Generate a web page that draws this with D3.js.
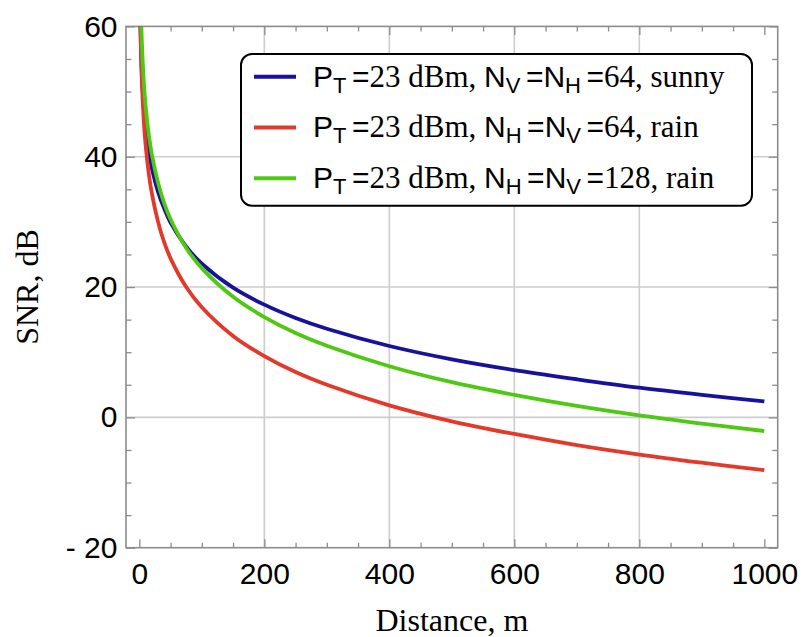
<!DOCTYPE html>
<html>
<head>
<meta charset="utf-8">
<script src="https://cdn.jsdelivr.net/npm/d3@7"></script>
<style>
  body { margin: 0; background: #fff; }
  svg { display: block; }
</style>
</head>
<body>
<svg id="chart"></svg>
<script>
// values
const distances = [1, 2, 4, 7, 10, 15, 20, 30, 40, 50, 75, 100, 150, 200, 250, 300, 400, 500, 600, 700, 800, 900, 1000];
const snrSunny64 = [65.6, 59.3, 53.0, 47.9, 44.6, 40.9, 38.3, 34.6, 32.0, 29.9, 26.2, 23.6, 19.9, 17.3, 15.25, 13.6, 10.95, 8.9, 7.25, 5.85, 4.55, 3.45, 2.45];
const snrRain64 = [66.9, 59.4, 51.8, 45.8, 41.9, 37.5, 34.4, 30.0, 26.8, 24.4, 20.0, 16.9, 12.5, 9.4, 6.95, 5.0, 1.85, -0.6, -2.55, -4.25, -5.7, -6.95, -8.1];
const snrRain128 = [72.9, 65.4, 57.8, 51.8, 47.9, 43.5, 40.4, 36.0, 32.8, 30.4, 26.0, 22.9, 18.5, 15.4, 12.95, 11.0, 7.85, 5.4, 3.45, 1.75, 0.3, -0.95, -2.1];

const xMajorTicks = [0, 200, 400, 600, 800, 1000];
const yMajorTicks = [-20, 0, 20, 40, 60];
const xGridValues = [200, 400, 600, 800];
const yGridValues = [0, 20, 40];

const seriesColors = ['#17129b', '#e2392b', '#4fc814'];
// legend labels: [text, style] pieces
const legendLabels = [
  [['P', 'sans'], ['T', 'sub'], ['=', 'sans'], ['23 dBm, ', 'serif'], ['N', 'sans'], ['V', 'sub'], ['=', 'sans'], ['N', 'sans'], ['H', 'sub'], ['=', 'sans'], ['64, sunny', 'serif']],
  [['P', 'sans'], ['T', 'sub'], ['=', 'sans'], ['23 dBm, ', 'serif'], ['N', 'sans'], ['H', 'sub'], ['=', 'sans'], ['N', 'sans'], ['V', 'sub'], ['=', 'sans'], ['64, rain', 'serif']],
  [['P', 'sans'], ['T', 'sub'], ['=', 'sans'], ['23 dBm, ', 'serif'], ['N', 'sans'], ['H', 'sub'], ['=', 'sans'], ['N', 'sans'], ['V', 'sub'], ['=', 'sans'], ['128, rain', 'serif']]
];

class SnrChart {

  constructor(_config, _data) {
    this.config = {
      parentElement: _config.parentElement,
      containerWidth: _config.containerWidth || 804,
      containerHeight: _config.containerHeight || 637,
      margin: _config.margin || {top: 26.4, right: 26.3, bottom: 89.3, left: 126}
    }
    this.data = _data;
    this.initVis();
  }

  initVis() {
    let vis = this;

    vis.width = vis.config.containerWidth - vis.config.margin.left - vis.config.margin.right;
    vis.height = vis.config.containerHeight - vis.config.margin.top - vis.config.margin.bottom;

    vis.xScale = d3.scaleLinear()
        .domain([-21.3, 1021.4])
        .range([0, vis.width]);
    vis.yScale = d3.scaleLinear()
        .domain([-20, 60])
        .range([vis.height, 0]);

    vis.svg = d3.select(vis.config.parentElement)
        .attr('width', vis.config.containerWidth)
        .attr('height', vis.config.containerHeight);

    vis.chart = vis.svg.append('g')
        .attr('transform', `translate(${vis.config.margin.left},${vis.config.margin.top})`);

    vis.svg.append('defs').append('clipPath')
        .attr('id', 'plot-clip')
      .append('rect')
        .attr('width', vis.width)
        .attr('height', vis.height);

    vis.gridG = vis.chart.append('g');
    vis.axesG = vis.chart.append('g');
    vis.marks = vis.chart.append('g').attr('clip-path', 'url(#plot-clip)');
    vis.legendG = vis.chart.append('g');

    // axis titles
    vis.svg.append('text')
        .attr('x', vis.config.margin.left + vis.width / 2)
        .attr('y', 631)
        .attr('text-anchor', 'middle')
        .attr('font-family', 'Liberation Serif, Times New Roman, serif')
        .attr('font-size', 32)
        .text('Distance, m');

    vis.svg.append('text')
        .attr('transform', `translate(37.5,${vis.config.margin.top + vis.height / 2}) rotate(-90)`)
        .attr('text-anchor', 'middle')
        .attr('font-family', 'Liberation Serif, Times New Roman, serif')
        .attr('font-size', 32)
        .text('SNR, dB');
  }

  updateVis() {
    let vis = this;

    vis.line = d3.line()
        .x(d => vis.xScale(d.x))
        .y(d => vis.yScale(d.y))
        .curve(d3.curveCatmullRom.alpha(0.5));

    vis.renderVis();
  }

  renderVis() {
    let vis = this;
    const frameColor = '#8c8c8c';

    // grid
    vis.gridG.selectAll('.vgrid')
        .data(xGridValues)
        .join('line')
          .attr('class', 'vgrid')
          .attr('x1', d => vis.xScale(d)).attr('x2', d => vis.xScale(d))
          .attr('y1', 0).attr('y2', vis.height)
          .attr('stroke', '#cdcdcd').attr('stroke-width', 1.6);
    vis.gridG.selectAll('.hgrid')
        .data(yGridValues)
        .join('line')
          .attr('class', 'hgrid')
          .attr('y1', d => vis.yScale(d)).attr('y2', d => vis.yScale(d))
          .attr('x1', 0).attr('x2', vis.width)
          .attr('stroke', '#cdcdcd').attr('stroke-width', 1.6);

    const xMinor = d3.range(0, 1001, 50).filter(v => v % 200 !== 0);
    const yMinor = d3.range(-20, 61, 5).filter(v => v % 20 !== 0);

    const styleAxis = (g) => {
      g.select('.domain').remove();
      g.selectAll('line').attr('stroke', frameColor).attr('stroke-width', 1.3);
      g.attr('font-family', 'Liberation Sans, Arial, sans-serif')
       .attr('font-size', 30)
       .selectAll('text').attr('fill', '#000');
    };

    // bottom
    vis.axesG.append('g')
        .attr('transform', `translate(0,${vis.height})`)
        .call(d3.axisBottom(vis.xScale).tickValues(xMajorTicks).tickSize(-8.5).tickPadding(15).tickFormat(d3.format('d')))
        .call(styleAxis);
    vis.axesG.append('g')
        .attr('transform', `translate(0,${vis.height})`)
        .call(d3.axisBottom(vis.xScale).tickValues(xMinor).tickSize(-5).tickFormat(''))
        .call(styleAxis);
    // top
    vis.axesG.append('g')
        .call(d3.axisTop(vis.xScale).tickValues(xMajorTicks).tickSize(-8.5).tickFormat(''))
        .call(styleAxis);
    vis.axesG.append('g')
        .call(d3.axisTop(vis.xScale).tickValues(xMinor).tickSize(-5).tickFormat(''))
        .call(styleAxis);
    // left
    vis.axesG.append('g')
        .call(d3.axisLeft(vis.yScale).tickValues(yMajorTicks).tickSize(-9).tickPadding(8.5)
          .tickFormat(d => d < 0 ? '- ' + Math.abs(d) : d))
        .call(styleAxis);
    vis.axesG.append('g')
        .call(d3.axisLeft(vis.yScale).tickValues(yMinor).tickSize(-5.5).tickFormat(''))
        .call(styleAxis);
    // right
    vis.axesG.append('g')
        .attr('transform', `translate(${vis.width},0)`)
        .call(d3.axisRight(vis.yScale).tickValues(yMajorTicks).tickSize(-9).tickFormat(''))
        .call(styleAxis);
    vis.axesG.append('g')
        .attr('transform', `translate(${vis.width},0)`)
        .call(d3.axisRight(vis.yScale).tickValues(yMinor).tickSize(-5.5).tickFormat(''))
        .call(styleAxis);

    vis.axesG.append('rect')
        .attr('width', vis.width)
        .attr('height', vis.height)
        .attr('fill', 'none')
        .attr('stroke', frameColor)
        .attr('stroke-width', 1.6);

    // curves
    vis.marks.selectAll('.chart-line')
        .data(vis.data)
        .join('path')
          .attr('class', 'chart-line')
          .attr('fill', 'none')
          .attr('stroke', (d, i) => seriesColors[i])
          .attr('stroke-width', 3.8)
          .attr('d', d => vis.line(d));

    // legend
    const box = {x: 241 - 126, y: 54 - 26.4, w: 511, h: 151.7};
    vis.legendG.append('rect')
        .attr('x', box.x).attr('y', box.y)
        .attr('width', box.w).attr('height', box.h)
        .attr('rx', 11).attr('ry', 11)
        .attr('fill', '#fff')
        .attr('stroke', '#000')
        .attr('stroke-width', 2);

    const rowY = i => box.y + 22.7 + i * 50.8;

    vis.legendG.selectAll('.legend-line')
        .data(seriesColors)
        .join('line')
          .attr('class', 'legend-line')
          .attr('x1', box.x + 13).attr('x2', box.x + 55)
          .attr('y1', (d, i) => rowY(i)).attr('y2', (d, i) => rowY(i))
          .attr('stroke', d => d)
          .attr('stroke-width', 4);

    legendLabels.forEach((pieces, i) => {
      const t = vis.legendG.append('text')
          .attr('x', box.x + 72)
          .attr('y', rowY(i) + 10);
      let prevSub = false;
      pieces.forEach(([txt, style]) => {
        const ts = t.append('tspan').text(txt);
        if (style === 'sub') {
          ts.attr('font-family', 'Liberation Sans, Arial, sans-serif')
            .attr('font-size', 22)
            .attr('dy', 6);
        } else {
          ts.attr('font-family', style === 'serif' ? 'Liberation Serif, Times New Roman, serif' : 'Liberation Sans, Arial, sans-serif')
            .attr('font-size', style === 'serif' ? 31 : 30);
          if (prevSub) ts.attr('dy', -6).attr('dx', 5.5);
        }
        prevSub = style === 'sub';
      });
    });
  }
}

const chartData = [snrSunny64, snrRain64, snrRain128]
    .map(series => series.map((v, i) => ({x: distances[i], y: v})));

const chart = new SnrChart({parentElement: '#chart'}, chartData);
chart.updateVis();
</script>
</body>
</html>
